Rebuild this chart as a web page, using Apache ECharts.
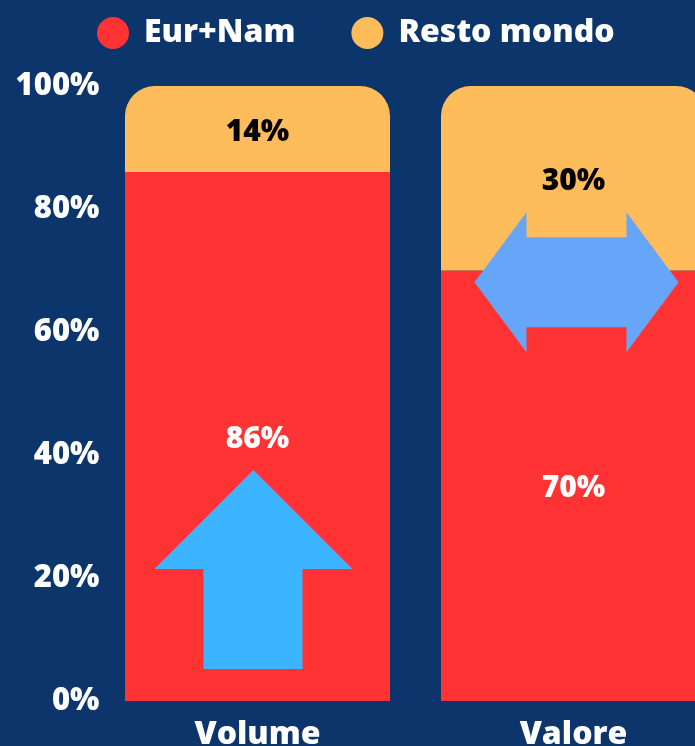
<!DOCTYPE html>
<html>
<head>
<meta charset="utf-8">
<script src="https://cdn.jsdelivr.net/npm/echarts@6/dist/echarts.min.js"></script>
<style>
  html, body { margin: 0; padding: 0; background: #0c356c; }
  #chart { width: 695px; height: 746px; }
</style>
</head>
<body>
<div id="chart"></div>
<script>
  // categorie e valori (%)
  const categories = ['Volume', 'Valore'];
  const eurNam = [86, 70];
  const restoMondo = [14, 30];
  const yTicks = [0, 20, 40, 60, 80, 100];

  const font = '"Open Sans", "DejaVu Sans", sans-serif';
  const upArrow = 'path://M99,0 L198,99 L148,99 L148,199 L49,199 L49,99 L0,99 Z';
  const twoWayArrow = 'path://M0,70 L52,0 L52,25 L152,25 L152,0 L204,70 L152,140 L152,115 L52,115 L52,140 Z';

  const chartObj = echarts.init(document.getElementById('chart'));
  const option = {
    backgroundColor: '#0c356c',
    textStyle: { fontFamily: font },
    legend: {
      top: 12,
      left: 92,
      itemWidth: 32,
      itemHeight: 32,
      itemGap: 56,
      icon: 'circle',
      textStyle: {
        color: '#fff',
        fontSize: 32,
        fontWeight: 800,
        fontFamily: font,
        padding: [0, 0, 0, 10]
      },
      data: ['Eur+Nam', 'Resto mondo']
    },
    // la seconda barra esce dal bordo destro
    grid: { left: 99.5, width: 632, top: 86, bottom: 45, outerBoundsMode: 'none', containLabel: false },
    xAxis: {
      type: 'category',
      data: categories,
      axisLine: { show: false },
      axisTick: { show: false },
      axisLabel: {
        color: '#fff',
        fontSize: 32,
        fontWeight: 800,
        fontFamily: font,
        margin: 18
      }
    },
    yAxis: {
      type: 'value',
      min: 0,
      max: 100,
      interval: 20,
      splitLine: { show: false },
      axisLabel: {
        color: '#fff',
        fontSize: 31,
        fontWeight: 800,
        fontFamily: font,
        margin: 0,
        formatter: v => yTicks.includes(v) ? v + '%' : ''
      }
    },
    series: [
      {
        name: 'Eur+Nam',
        type: 'bar',
        stack: 'tot',
        barWidth: 265,
        itemStyle: { color: '#ff3333' },
        label: {
          show: true,
          position: 'inside',
          offset: [0, 3],
          color: '#fff',
          fontSize: 30,
          fontWeight: 800,
          fontFamily: font,
          formatter: '{c}%'
        },
        data: eurNam
      },
      {
        name: 'Resto mondo',
        type: 'bar',
        stack: 'tot',
        barWidth: 265,
        itemStyle: { color: '#ffbc5a', borderRadius: [30, 30, 0, 0] },
        label: {
          show: true,
          position: 'inside',
          offset: [0, 3],
          color: '#000',
          fontSize: 30,
          fontWeight: 800,
          fontFamily: font,
          formatter: '{c}%'
        },
        markPoint: {
          silent: true,
          label: { show: false },
          data: [
            {
              coord: ['Volume', 21.4],
              symbol: upArrow,
              symbolSize: [198, 199],
              symbolOffset: [-4, 0],
              itemStyle: { color: '#3bb5ff' }
            },
            {
              coord: ['Valore', 68.1],
              symbol: twoWayArrow,
              symbolSize: [204, 140],
              symbolOffset: [3, 0],
              itemStyle: { color: '#66a6f8' }
            }
          ]
        },
        data: restoMondo
      }
    ]
  };
  chartObj.setOption(option);
</script>
</body>
</html>
